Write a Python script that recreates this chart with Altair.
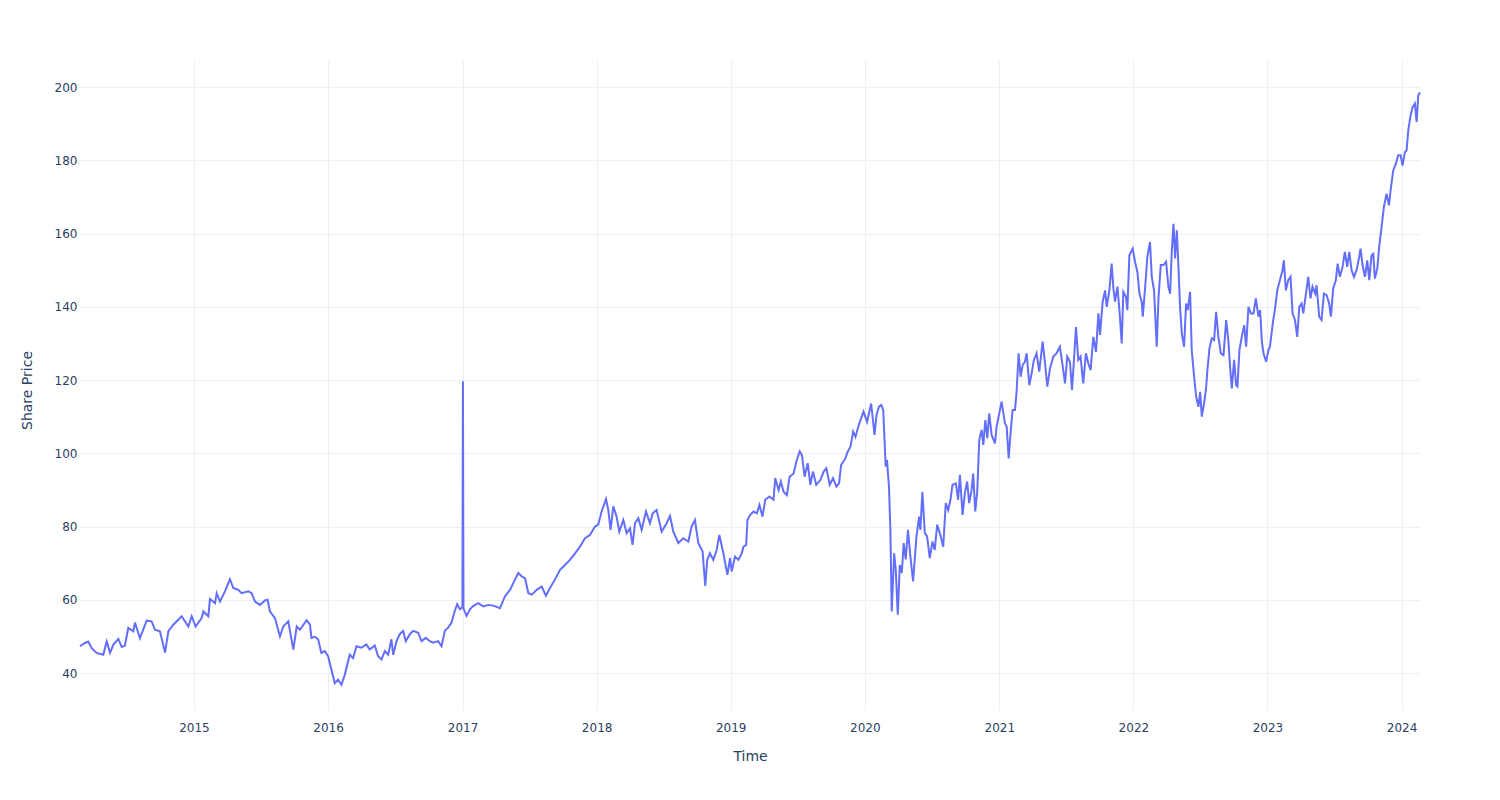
import altair as alt
import pandas as pd

# Time in decimal years; prices in the same order.
years_2014_15 = [2014.150, 2014.187, 2014.212, 2014.237, 2014.274, 2014.324, 2014.349, 2014.374, 2014.398, 2014.436,
                 2014.461, 2014.485, 2014.510, 2014.548, 2014.560, 2014.597, 2014.647, 2014.684, 2014.709, 2014.746,
                 2014.784, 2014.809, 2014.846, 2014.908, 2014.958, 2014.983, 2015.012, 2015.057, 2015.070, 2015.107,
                 2015.119, 2015.157, 2015.169, 2015.194, 2015.231, 2015.268, 2015.293, 2015.331, 2015.355, 2015.405,
                 2015.430, 2015.455, 2015.492, 2015.529, 2015.549, 2015.567, 2015.604, 2015.641, 2015.666, 2015.703,
                 2015.741, 2015.766, 2015.790, 2015.840, 2015.865]
price_2014_15 = [47.3, 48.2, 48.6, 46.8, 45.5, 45.0, 48.6, 45.5, 47.7, 49.3,
                 47.1, 47.5, 52.3, 51.4, 53.8, 49.5, 54.3, 54.1, 51.8, 51.4,
                 45.6, 51.4, 53.2, 55.5, 52.7, 55.5, 52.7, 55.0, 56.8, 55.5,
                 60.2, 59.1, 61.8, 59.5, 62.3, 65.6, 63.2, 62.7, 61.8, 62.3,
                 61.8, 59.5, 58.6, 59.8, 60.0, 56.8, 55.0, 50.0, 52.7, 54.1,
                 46.4, 52.7, 51.8, 54.4, 53.2]

years_2016 = [2015.876, 2015.901, 2015.926, 2015.950, 2015.975, 2016.000, 2016.025, 2016.050, 2016.074, 2016.099,
              2016.124, 2016.161, 2016.186, 2016.211, 2016.248, 2016.285, 2016.310, 2016.347, 2016.372, 2016.397,
              2016.422, 2016.447, 2016.471, 2016.484, 2016.509, 2016.533, 2016.558, 2016.578, 2016.608, 2016.633,
              2016.670, 2016.695, 2016.727, 2016.757, 2016.782, 2016.819, 2016.844, 2016.868, 2016.893, 2016.918,
              2016.943, 2016.960, 2016.980, 2016.999, 2017.003, 2017.007, 2017.030, 2017.055, 2017.079, 2017.104]
price_2016 = [49.6, 49.9, 49.2, 45.5, 46.0, 44.6, 40.9, 37.2, 38.2, 36.8,
              39.5, 45.0, 44.1, 47.3, 46.9, 47.8, 46.4, 47.5, 44.6, 43.7,
              46.0, 45.0, 49.2, 45.0, 48.7, 50.6, 51.5, 48.7, 50.6, 51.5,
              51.0, 48.7, 49.6, 48.7, 48.3, 48.7, 47.3, 51.5, 52.4, 53.8,
              57.0, 58.8, 57.4, 58.0, 119.7, 57.6, 55.6, 57.4, 58.3, 58.8]

years_2017_18 = [2017.117, 2017.155, 2017.192, 2017.229, 2017.279, 2017.316, 2017.354, 2017.391, 2017.416, 2017.441,
                 2017.466, 2017.491, 2017.516, 2017.553, 2017.590, 2017.622, 2017.652, 2017.689, 2017.727, 2017.764,
                 2017.801, 2017.839, 2017.876, 2017.913, 2017.950, 2017.988, 2018.012, 2018.037, 2018.070, 2018.087,
                 2018.104, 2018.124, 2018.149, 2018.169, 2018.199, 2018.224, 2018.249, 2018.268, 2018.286, 2018.311,
                 2018.336, 2018.368, 2018.398, 2018.418, 2018.447, 2018.485, 2018.522, 2018.547, 2018.572, 2018.609,
                 2018.646, 2018.684, 2018.708, 2018.733, 2018.758, 2018.790, 2018.810, 2018.825, 2018.845, 2018.870,
                 2018.895]
price_2017_18 = [59.1, 58.2, 58.6, 58.4, 57.7, 60.9, 62.7, 65.5, 67.3, 66.4,
                 65.9, 61.8, 61.4, 62.7, 63.6, 61.1, 63.2, 65.5, 68.2, 69.5,
                 70.9, 72.7, 74.5, 76.8, 77.7, 80.0, 80.5, 84.1, 87.5, 84.5,
                 79.1, 85.5, 82.7, 78.6, 81.8, 78.2, 79.5, 75.0, 80.9, 82.3,
                 79.1, 84.1, 80.9, 83.6, 84.5, 78.6, 80.9, 82.9, 78.6, 75.5,
                 76.8, 75.9, 80.0, 81.8, 75.5, 73.2, 63.8, 70.9, 72.7, 70.9,
                 73.6]

years_2019 = [2018.915, 2018.945, 2018.975, 2018.995, 2019.007, 2019.032, 2019.057, 2019.082, 2019.095, 2019.115,
              2019.125, 2019.145, 2019.170, 2019.195, 2019.214, 2019.237, 2019.257, 2019.289, 2019.319, 2019.332,
              2019.357, 2019.374, 2019.394, 2019.419, 2019.439, 2019.469, 2019.489, 2019.514, 2019.531, 2019.551,
              2019.574, 2019.594, 2019.613, 2019.638, 2019.668, 2019.693, 2019.713, 2019.738, 2019.763, 2019.788,
              2019.808, 2019.823, 2019.855, 2019.873, 2019.893, 2019.913, 2019.930, 2019.955, 2019.990, 2020.017,
              2020.047, 2020.072, 2020.087, 2020.105, 2020.122, 2020.137]
price_2019 = [77.7, 72.7, 66.8, 71.4, 67.7, 71.8, 70.9, 72.7, 74.5, 75.0,
              81.8, 83.2, 84.1, 83.6, 85.9, 82.7, 87.3, 88.2, 87.3, 93.2,
              90.0, 92.3, 89.5, 88.6, 93.6, 94.5, 97.7, 100.5, 99.5, 93.6,
              97.3, 91.4, 95.0, 91.4, 92.7, 95.0, 95.9, 91.4, 93.2, 90.9,
              91.8, 96.8, 98.6, 100.5, 101.8, 105.9, 104.5, 107.7, 111.4, 108.6,
              113.6, 105.0, 110.5, 112.7, 113.2, 111.8]

years_2020_21 = [2020.155, 2020.165, 2020.180, 2020.190, 2020.200, 2020.218, 2020.230, 2020.245, 2020.260, 2020.275,
                 2020.289, 2020.304, 2020.321, 2020.339, 2020.359, 2020.384, 2020.404, 2020.413, 2020.428, 2020.446,
                 2020.463, 2020.483, 2020.503, 2020.520, 2020.538, 2020.558, 2020.583, 2020.602, 2020.620, 2020.637,
                 2020.652, 2020.677, 2020.694, 2020.707, 2020.727, 2020.744, 2020.761, 2020.776, 2020.794, 2020.806,
                 2020.821, 2020.836, 2020.851, 2020.868, 2020.881, 2020.896, 2020.911, 2020.925, 2020.943, 2020.968,
                 2020.980, 2021.000, 2021.017, 2021.042, 2021.055, 2021.070, 2021.084, 2021.099, 2021.117, 2021.129,
                 2021.144, 2021.159, 2021.174, 2021.191, 2021.204, 2021.224, 2021.241, 2021.258, 2021.278, 2021.298,
                 2021.323, 2021.340, 2021.358, 2021.378, 2021.403, 2021.427, 2021.452, 2021.472, 2021.490, 2021.507,
                 2021.527, 2021.542, 2021.557, 2021.572, 2021.589, 2021.606, 2021.626, 2021.646, 2021.664, 2021.681]
price_2020_21 = [96.4, 98.2, 90.5, 79.1, 56.8, 72.7, 68.2, 55.9, 69.5, 67.3,
                 75.5, 71.0, 79.1, 71.8, 65.0, 77.3, 82.7, 79.1, 89.5, 78.2,
                 77.3, 71.4, 75.9, 73.6, 80.5, 78.2, 74.5, 86.4, 84.5, 87.3,
                 91.4, 91.8, 87.3, 94.1, 83.2, 89.1, 92.3, 86.4, 90.0, 94.5,
                 84.1, 89.5, 103.6, 106.4, 102.3, 109.1, 104.1, 110.9, 105.0, 102.7,
                 107.3, 110.9, 114.1, 108.2, 107.3, 98.6, 105.5, 111.8, 111.8, 116.8,
                 127.3, 120.9, 124.1, 125.0, 127.3, 118.6, 121.8, 125.5, 127.3, 122.3,
                 130.5, 125.0, 118.2, 123.2, 126.4, 127.3, 129.1, 124.1, 119.1, 126.4,
                 125.0, 117.3, 125.5, 134.5, 125.5, 126.4, 119.1, 127.3, 124.5, 122.7]

years_2022 = [2021.701, 2021.721, 2021.739, 2021.751, 2021.771, 2021.789, 2021.801, 2021.821, 2021.838, 2021.851,
              2021.863, 2021.881, 2021.896, 2021.913, 2021.925, 2021.945, 2021.955, 2021.970, 2021.995, 2022.012,
              2022.030, 2022.045, 2022.062, 2022.070, 2022.087, 2022.104, 2022.124, 2022.137, 2022.154, 2022.174,
              2022.187, 2022.204, 2022.224, 2022.244, 2022.261, 2022.274, 2022.286, 2022.299, 2022.311, 2022.324,
              2022.336, 2022.348, 2022.361, 2022.378, 2022.393, 2022.405, 2022.423, 2022.435, 2022.453, 2022.468,
              2022.485, 2022.498, 2022.510, 2022.527, 2022.542, 2022.552, 2022.567, 2022.585, 2022.602, 2022.617,
              2022.634, 2022.652, 2022.672, 2022.692, 2022.709, 2022.721, 2022.734, 2022.751, 2022.766, 2022.776,
              2022.791, 2022.808, 2022.826, 2022.841, 2022.858, 2022.876, 2022.896, 2022.913, 2022.933, 2022.945,
              2022.958, 2022.970, 2022.990, 2023.007]
price_2022 = [131.8, 127.7, 138.2, 132.3, 141.4, 144.5, 140.0, 144.5, 151.8, 145.0,
              141.4, 145.5, 139.1, 130.0, 144.1, 142.7, 139.1, 154.1, 155.9, 152.3,
              149.5, 143.6, 141.4, 137.3, 145.0, 153.6, 157.7, 148.2, 144.5, 129.1,
              142.3, 151.4, 151.4, 152.3, 145.5, 143.6, 155.0, 162.7, 153.2, 160.9,
              150.9, 140.0, 132.7, 129.1, 140.9, 139.1, 144.1, 128.2, 120.9, 115.5,
              112.7, 116.8, 110.0, 113.6, 117.7, 122.7, 128.6, 131.4, 130.9, 138.6,
              131.8, 127.3, 126.8, 136.4, 130.5, 123.6, 117.7, 125.5, 118.6, 118.2,
              128.2, 131.8, 135.0, 129.1, 140.0, 138.2, 138.2, 142.3, 137.3, 139.1,
              130.5, 127.3, 125.0, 128.2]

years_2023_24 = [2023.018, 2023.043, 2023.055, 2023.073, 2023.093, 2023.112, 2023.122, 2023.137, 2023.155, 2023.172,
                 2023.187, 2023.205, 2023.222, 2023.237, 2023.254, 2023.267, 2023.287, 2023.304, 2023.321, 2023.336,
                 2023.356, 2023.366, 2023.386, 2023.403, 2023.421, 2023.441, 2023.460, 2023.473, 2023.490, 2023.510,
                 2023.523, 2023.540, 2023.560, 2023.577, 2023.595, 2023.610, 2023.627, 2023.645, 2023.664, 2023.684,
                 2023.694, 2023.709, 2023.727, 2023.744, 2023.759, 2023.776, 2023.789, 2023.801, 2023.819, 2023.833,
                 2023.851, 2023.868, 2023.888, 2023.906, 2023.918, 2023.938, 2023.958, 2023.975, 2023.993, 2024.007,
                 2024.025, 2024.037, 2024.050, 2024.067, 2024.082, 2024.099, 2024.112, 2024.124, 2024.137]
price_2023_24 = [129.1, 136.4, 139.1, 144.5, 147.3, 150.0, 152.7, 144.5, 147.3, 148.2,
                 138.2, 136.4, 131.8, 140.0, 140.9, 138.2, 143.6, 148.2, 142.3, 145.5,
                 143.6, 145.9, 137.3, 136.4, 143.6, 143.2, 140.9, 137.3, 145.0, 147.3,
                 151.8, 148.2, 150.9, 155.0, 150.9, 155.0, 150.0, 148.2, 150.0, 153.6,
                 155.9, 151.4, 148.2, 152.7, 147.3, 154.1, 154.5, 147.7, 150.5, 156.4,
                 161.8, 167.3, 170.9, 167.7, 171.8, 177.3, 179.1, 181.4, 181.4, 178.6,
                 182.3, 182.7, 188.2, 192.3, 194.5, 195.5, 190.5, 197.7, 198.6]

y_ticks = [40, 60, 80, 100, 120, 140, 160, 180, 200]

years = (years_2014_15 + years_2016 + years_2017_18 + years_2019 +
         years_2020_21 + years_2022 + years_2023_24)
prices = (price_2014_15 + price_2016 + price_2017_18 + price_2019 +
          price_2020_21 + price_2022 + price_2023_24)


def to_ts(y):
    yr = int(y)
    start = pd.Timestamp(yr, 1, 1)
    end = pd.Timestamp(yr + 1, 1, 1)
    return start + (end - start) * (y - yr)


df = pd.DataFrame({"Time": [to_ts(y) for y in years], "Share Price": prices})

FONT = "DejaVu Sans"
TXT = "#2a3f5f"
GRID = "#EBF0F8"

chart = alt.Chart(df).mark_line(color="#636efa", strokeWidth=2).encode(
    x=alt.X("Time:T",
            scale=alt.Scale(nice=False),
            axis=alt.Axis(title="Time", format="%Y",
                          tickCount={"interval": "year", "step": 1},
                          grid=True, gridColor=GRID, domain=False, ticks=False,
                          labelPadding=12, titlePadding=16, labelFlush=False)),
    y=alt.Y("Share Price:Q",
            scale=alt.Scale(domain=[29.9, 207.4], nice=False, zero=False),
            axis=alt.Axis(title="Share Price", values=y_ticks,
                          grid=True, gridColor=GRID, domain=False, ticks=False,
                          labelPadding=3, titlePadding=20, titleY=330)),
).properties(
    width=1340, height=650,
    autosize=alt.AutoSizeParams(type="none"),
    padding={"left": 80, "top": 60, "right": 80, "bottom": 90},
    background="white",
).configure_view(stroke=None).configure_axis(
    labelFont=FONT, labelFontSize=12, labelColor=TXT,
    titleFont=FONT, titleFontSize=14, titleColor=TXT, titleFontWeight="normal",
)

chart.save("out.html", embed_options={"renderer": "svg", "actions": False})
